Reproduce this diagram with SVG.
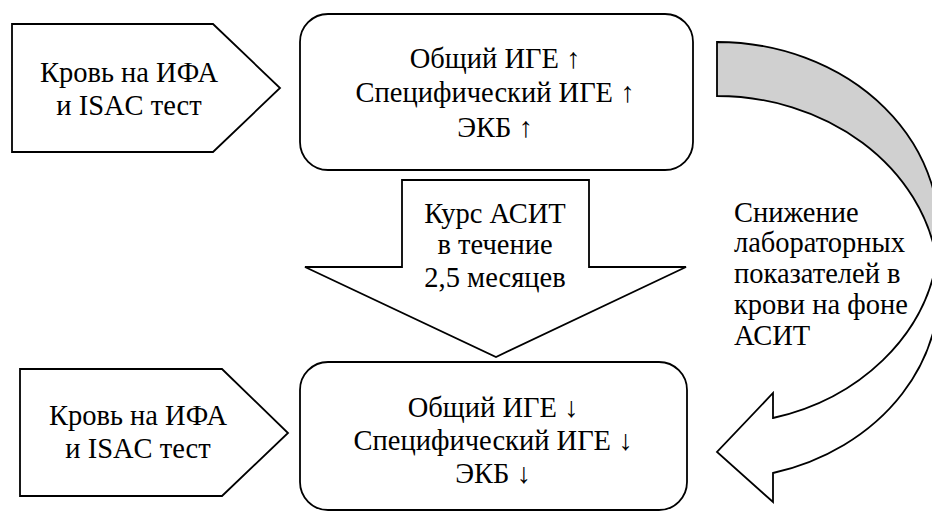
<svg xmlns="http://www.w3.org/2000/svg" width="932" height="513" viewBox="0 0 932 513">
<style>
.sh{fill:#fff;stroke:#000;stroke-width:1.8;stroke-linejoin:miter}
.gray{fill:#d0d0d0;stroke:#000;stroke-width:1.8}
text{font-family:'Liberation Serif','Times New Roman',serif;font-size:28.5px;fill:#000}
.c{text-anchor:middle}
</style>
<rect width="932" height="513" fill="#fff"/>
<g id="input-top">
<path class="sh" d="M12,24 L213,24 L280,88 L213,152 L12,152 Z"/>
<text class="c" x="129" y="82">Кровь на ИФА</text>
<text class="c" x="129" y="115">и ISAC тест</text>
</g>
<g id="before">
<rect class="sh" x="300" y="14" width="393" height="156" rx="28" ry="28"/>
<text class="c" x="495" y="68">Общий ИГЕ ↑</text>
<text class="c" x="495" y="102">Специфический ИГЕ ↑</text>
<text class="c" x="495" y="137">ЭКБ ↑</text>
</g>
<g id="asit-course">
<path class="sh" d="M402,180 L589,180 L589,267 L686,267 L496,357 L305,267 L402,267 Z"/>
<text class="c" x="495" y="223">Курс АСИТ</text>
<text class="c" x="495" y="254">в течение</text>
<text class="c" x="495" y="287">2,5 месяцев</text>
</g>
<g id="input-bottom">
<path class="sh" d="M20,369 L222,369 L288,433 L222,496 L20,496 Z"/>
<text class="c" x="138" y="425">Кровь на ИФА</text>
<text class="c" x="138" y="458">и ISAC тест</text>
</g>
<g id="after">
<rect class="sh" x="300" y="362" width="387" height="148" rx="28" ry="28"/>
<text class="c" x="493" y="417">Общий ИГЕ ↓</text>
<text class="c" x="493" y="450">Специфический ИГЕ ↓</text>
<text class="c" x="493" y="483">ЭКБ ↓</text>
</g>
<g id="connectors">
<path class="gray" d="M717,42 A222,191 0 0,1 936.8,260 A222,191 0 0,0 717,96 Z"/>
<path class="sh" d="M773,418 A222,191 0 0,0 936.8,260 A222,191 0 0,1 773,473 L773,502 L717,452 L773,393 Z"/>
<text x="734" y="222">Снижение</text>
<text x="734" y="252">лабораторных</text>
<text x="734" y="283">показателей в</text>
<text x="734" y="314">крови на фоне</text>
<text x="734" y="345">АСИТ</text>
</g>
</svg>
